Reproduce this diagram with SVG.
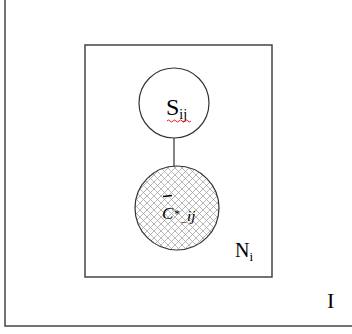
<svg xmlns="http://www.w3.org/2000/svg" width="352" height="334" viewBox="0 0 352 334">
<style>
.frame{fill:none;stroke:#444;stroke-width:1.5}
.t{font-family:"Liberation Serif",serif;fill:#000}
.node{stroke:#333;stroke-width:1.2}
</style>
<defs>
<pattern id="hatch" width="7" height="7" patternUnits="userSpaceOnUse">
<rect width="7" height="7" fill="#fff"/>
<path d="M0,0 L7,7 M7,0 L0,7" stroke="#999" stroke-width="0.7"/>
</pattern>
</defs>
<rect width="352" height="334" fill="#fff"/>
<g id="plate-I">
<path class="frame" d="M5,0 V326 H352"/>
<text class="t" x="327" y="308" font-size="22">I</text>
</g>
<g id="plate-Ni">
<rect class="frame" x="85" y="45" width="187" height="232"/>
<text class="t" x="235" y="257" font-size="20">N<tspan font-size="13" dy="4">i</tspan></text>
</g>
<g id="connectors">
<line x1="174" y1="138" x2="174" y2="167" stroke="#333" stroke-width="1.2"/>
</g>
<g id="node-S">
<circle class="node" cx="174" cy="103" r="35" fill="#fff"/>
<text class="t" x="166" y="115" font-size="24">S<tspan font-size="14" dy="4">ij</tspan></text>
<path d="M167,121 q1.5,-2 3,0 t3,0 t3,0 t3,0 t3,0 t3,0 t3,0 t3,0" fill="none" stroke="#e00" stroke-width="0.9"/>
</g>
<g id="node-C">
<circle class="node" cx="177" cy="208" r="42" fill="url(#hatch)"/>
<line x1="163" y1="196.5" x2="172" y2="195.5" stroke="#000" stroke-width="1.3"/>
<text class="t" x="162" y="219" font-size="17" font-style="italic">C</text>
<text class="t" x="174" y="218" font-size="12">*</text>
<text class="t" x="181" y="221" font-size="11">_</text>
<text class="t" x="187" y="221" font-size="15" font-style="italic">ij</text>
</g>
</svg>
